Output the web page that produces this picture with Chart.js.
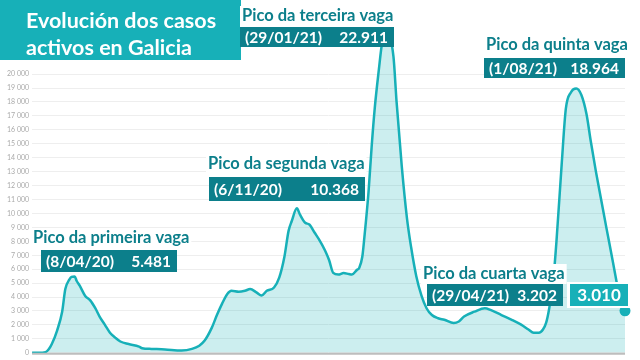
<!DOCTYPE html>
<html>
<head>
<meta charset="utf-8">
<script src="https://cdn.jsdelivr.net/npm/chart.js@4"></script>
<style>
html, body { margin: 0; padding: 0; background: #fff; }
#wrap { width: 640px; height: 360px; }
</style>
</head>
<body>
<div id="wrap"><canvas id="casos-chart" width="640" height="360"></canvas></div>
<script>
// days since 27/02/2020
const days = [0, 6, 13, 16, 19, 24, 29, 32, 36, 38, 41, 43, 46, 51, 56, 61, 65, 70, 75, 80,
    85, 93, 103, 106, 115, 128, 144, 154, 161, 166, 173, 178, 183, 188, 192, 199, 205, 210, 216, 221,
    226, 233, 238, 243, 247, 250, 255, 258, 263, 267, 272, 277, 282, 286, 290, 295, 300, 305, 308, 313,
    315, 318, 320, 324, 327, 330, 334, 337, 341, 348, 351, 356, 361, 365, 370, 375, 380, 385, 391, 397,
    406, 411, 416, 426, 436, 442, 452, 462, 471, 478, 483, 488, 492, 495, 498, 502, 505, 510, 514, 519,
    524, 529, 534, 538, 543, 548, 553, 559, 563, 567, 571];
const activos = [0, 0, 50, 250, 630, 1580, 2970, 4570, 5270, 5450, 5481, 5150, 4800, 4100, 3760, 3180, 2600, 2020, 1440, 1090,
    810, 630, 445, 330, 280, 240, 165, 280, 510, 860, 1790, 2710, 3530, 4220, 4450, 4380, 4450, 4570, 4340, 4110,
    4450, 4690, 5390, 6890, 8750, 9440, 10368, 9910, 9330, 9210, 8630, 8050, 7360, 6660, 5730, 5610, 5730, 5650, 5610, 5960,
    6080, 6890, 8280, 11530, 14780, 17560, 20350, 22200, 22911, 21270, 18020, 13390, 9670, 7590, 5500, 4110, 3180, 2710, 2480, 2370,
    2140, 2250, 2600, 2950, 3202, 3060, 2710, 2370, 2020, 1670, 1440, 1440, 1670, 2140, 3180, 5270, 8000, 13500, 17500, 18700,
    18964, 18500, 17100, 15200, 13000, 11000, 9000, 6660, 5040, 3410, 3010];

const yTicks = [0, 1000, 2000, 3000, 4000, 5000, 6000, 7000, 8000, 9000, 10000,
    11000, 12000, 13000, 14000, 15000, 16000, 17000, 18000, 19000, 20000];

const tituloLinhas = ['Evolución dos casos', 'activos en Galicia'];
const picoTitulos = ['Pico da primeira vaga', 'Pico da segunda vaga', 'Pico da terceira vaga', 'Pico da cuarta vaga', 'Pico da quinta vaga'];
const picoDatas = ['(8/04/20)', '(6/11/20)', '(29/01/21)', '(29/04/21)', '(1/08/21)'];
const picoValores = ['5.481', '10.368', '22.911', '3.202', '18.964'];
const ultimoValor = '3.010';

const TEAL = '#17b0b8';
const DARK = '#0c7f8b';
const FONT = 'Lato, "Open Sans", sans-serif';

// label boxes: title text position + box rect
const labelBoxes = [
    { tx: 33, ty: 238, bx: 41, by: 250, bw: 136, bh: 22 },
    { tx: 208, ty: 164, bx: 209, by: 177, bw: 156, bh: 24 },
    { tx: 242, ty: 16, bx: 240, by: 27, bw: 154, bh: 20 },
    { tx: 423, ty: 274, bx: 427, by: 284, bw: 136, bh: 22 },
    { tx: 486, ty: 45, bx: 484, by: 58, bw: 141, bh: 20 }
];

function fmtTick(v) {
    if (v < 1000) return String(v);
    return Math.floor(v / 1000) + ' ' + String(v % 1000).padStart(3, '0');
}

const decor = {
    id: 'decor',
    afterDraw(chart) {
        const c = chart.ctx;
        const area = chart.chartArea;
        c.save();
        // baseline
        c.strokeStyle = '#bdbdbd';
        c.lineWidth = 2;
        c.beginPath();
        c.moveTo(area.left, area.bottom + 1);
        c.lineTo(area.right, area.bottom + 1);
        c.stroke();

        // title block
        c.fillStyle = TEAL;
        c.fillRect(0, 0, 241, 60);
        c.fillStyle = '#fff';
        c.font = 'bold 21.5px ' + FONT;
        c.textBaseline = 'alphabetic';
        c.fillText(tituloLinhas[0], 26, 28);
        c.fillText(tituloLinhas[1], 26, 55);

        // peak labels
        labelBoxes.forEach((b, i) => {
            c.font = 'bold 16.5px ' + FONT;
            c.textBaseline = 'middle';
            c.textAlign = 'left';
            const w = c.measureText(picoTitulos[i]).width;
            c.fillStyle = '#fff';
            c.fillRect(b.tx - 2, b.ty - 10, w + 4, b.by - b.ty + 10);
            c.fillStyle = DARK;
            c.fillText(picoTitulos[i], b.tx, b.ty);

            c.fillStyle = DARK;
            c.fillRect(b.bx, b.by, b.bw, b.bh);
            c.fillStyle = '#fff';
            c.font = 'bold 15.5px ' + FONT;
            c.fillText(picoDatas[i], b.bx + 5, b.by + b.bh / 2 + 1);
            c.textAlign = 'right';
            c.fillText(picoValores[i], b.bx + b.bw - 6, b.by + b.bh / 2 + 1);
        });

        // last value
        c.fillStyle = '#fff';
        c.fillRect(567, 282, 63, 26);
        c.fillStyle = TEAL;
        c.fillRect(570, 284, 58, 22);
        c.fillStyle = '#fff';
        c.textAlign = 'center';
        c.font = 'bold 17px ' + FONT;
        c.fillText(ultimoValor, 599, 296);
        c.restore();
    }
};

const ctx = document.getElementById('casos-chart').getContext('2d');
new Chart(ctx, {
    type: 'line',
    data: {
        datasets: [{
            data: days.map((d, i) => ({ x: d, y: activos[i] })),
            borderColor: TEAL,
            backgroundColor: 'rgba(23, 176, 184, 0.22)',
            fill: 'origin',
            borderWidth: 2.5,
            cubicInterpolationMode: 'monotone',
            pointRadius: c => c.dataIndex === days.length - 1 ? 5.5 : 0,
            pointBackgroundColor: TEAL,
            pointBorderWidth: 0,
            clip: false
        }]
    },
    options: {
        responsive: false,
        animation: false,
        layout: { padding: { top: 0, right: 15, bottom: 3, left: 4 } },
        plugins: { legend: { display: false }, tooltip: { enabled: false } },
        scales: {
            x: { type: 'linear', display: false, min: 0, max: 571 },
            y: {
                min: 0, max: 24800,
                afterBuildTicks: s => { s.ticks = yTicks.map(v => ({ value: v })); },
                ticks: { color: '#aaa', font: { size: 7, family: FONT }, padding: 3, callback: v => fmtTick(v) },
                grid: { color: '#eeeeee', drawTicks: false },
                border: { display: false }
            }
        }
    },
    plugins: [decor]
});
</script>
</body>
</html>
